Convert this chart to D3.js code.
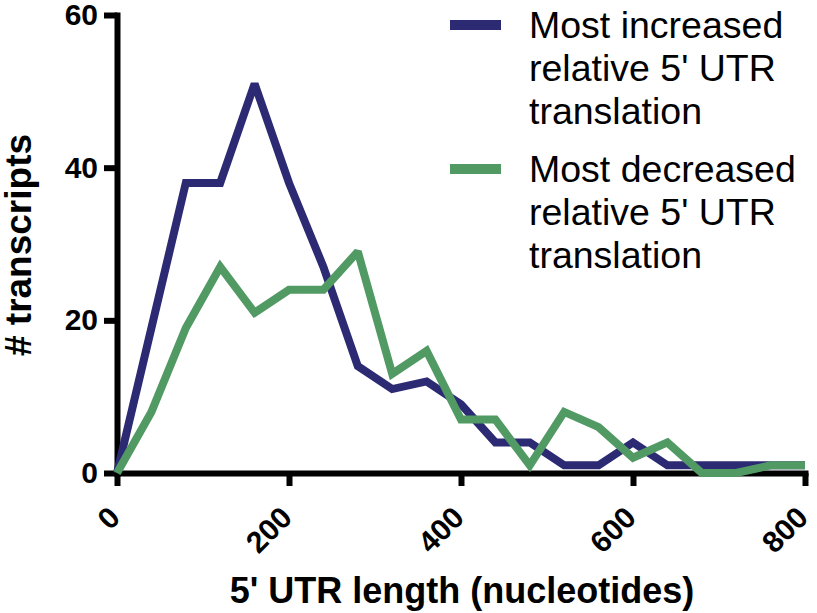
<!DOCTYPE html>
<html>
<head>
<meta charset="utf-8">
<script src="https://cdn.jsdelivr.net/npm/d3@7"></script>
<style>
  body { margin: 0; background: #fff; }
  text { font-family: "Liberation Sans", Arial, sans-serif; }
</style>
</head>
<body>
<svg id="chart" width="817" height="613"></svg>
<script>
// 5' UTR length bins (nucleotides)
const lengths = [0, 40, 80, 120, 160, 200, 240, 280, 320, 360, 400, 440, 480, 520, 560, 600, 640, 680, 720, 760, 800];
// Most increased relative 5' UTR translation
const increased = [0, 19, 38, 38, 51, 38, 27, 14, 11, 12, 9, 4, 4, 1, 1, 4, 1, 1, 1, 1, 1];
// Most decreased relative 5' UTR translation
const decreased = [0, 8, 19, 27, 21, 24, 24, 29, 13, 16, 7, 7, 1, 8, 6, 2, 4, 0, 0, 1, 1];
const xTicks = [0, 200, 400, 600, 800];
const yTicks = [0, 20, 40, 60];
const seriesNames = [
  ['Most increased', 'relative 5\' UTR', 'translation'],
  ['Most decreased', 'relative 5\' UTR', 'translation']
];
const colors = ['#2c2a72', '#519a64'];

const svg = d3.select('#chart');
const x = d3.scaleLinear().domain([0, 800]).range([117, 805]);
const y = d3.scaleLinear().domain([0, 60]).range([473, 15]);

// Axes
const gx = svg.append('g')
  .attr('transform', `translate(0,${y(0)})`)
  .call(d3.axisBottom(x).tickValues(xTicks).tickSize(13).tickSizeOuter(0).tickFormat(d3.format('d')));
gx.selectAll('.tick text')
  .attr('y', 0)
  .attr('dy', '0.35em')
  .attr('transform', 'translate(-3,39) rotate(-45)')
  .attr('text-anchor', 'end');

const gy = svg.append('g')
  .attr('transform', `translate(${x(0)},0)`)
  .call(d3.axisLeft(y).tickValues(yTicks).tickSize(13).tickSizeOuter(0).tickPadding(6));

[gx, gy].forEach((g) => {
  g.select('.domain').attr('stroke', '#000').attr('stroke-width', 6).attr('stroke-linecap', 'square');
  g.selectAll('.tick line').attr('stroke', '#000').attr('stroke-width', 6);
  g.selectAll('.tick text')
    .attr('fill', '#000')
    .style('font-size', '30px')
    .style('font-weight', 'bold');
});

// Lines
const line = d3.line()
  .x((d) => x(d[0]))
  .y((d) => y(d[1]));

[increased, decreased].forEach((vals, i) => {
  svg.append('path')
    .datum(lengths.map((l, j) => [l, vals[j]]))
    .attr('fill', 'none')
    .attr('stroke', colors[i])
    .attr('stroke-width', 8)
    .attr('stroke-linejoin', 'miter')
    .attr('stroke-miterlimit', 2)
    .attr('d', line);
});

// Legend
const legendTop = [38, 182];
seriesNames.forEach((lines, i) => {
  const g = svg.append('g');
  g.append('line')
    .attr('x1', 450).attr('x2', 501)
    .attr('y1', legendTop[i] - 13).attr('y2', legendTop[i] - 13)
    .attr('stroke', colors[i])
    .attr('stroke-width', 10);
  lines.forEach((t, k) => {
    g.append('text')
      .attr('x', 529)
      .attr('y', legendTop[i] + k * 43)
      .style('font-size', '37.5px')
      .attr('fill', '#000')
      .text(t);
  });
});

// Axis titles
svg.append('text')
  .attr('x', 462)
  .attr('y', 603)
  .attr('text-anchor', 'middle')
  .style('font-size', '36px')
  .style('font-weight', 'bold')
  .text('5\' UTR length (nucleotides)');

svg.append('text')
  .attr('transform', 'translate(31,245) rotate(-90)')
  .attr('text-anchor', 'middle')
  .style('font-size', '37px')
  .style('font-weight', 'bold')
  .text('# transcripts');
</script>
</body>
</html>
